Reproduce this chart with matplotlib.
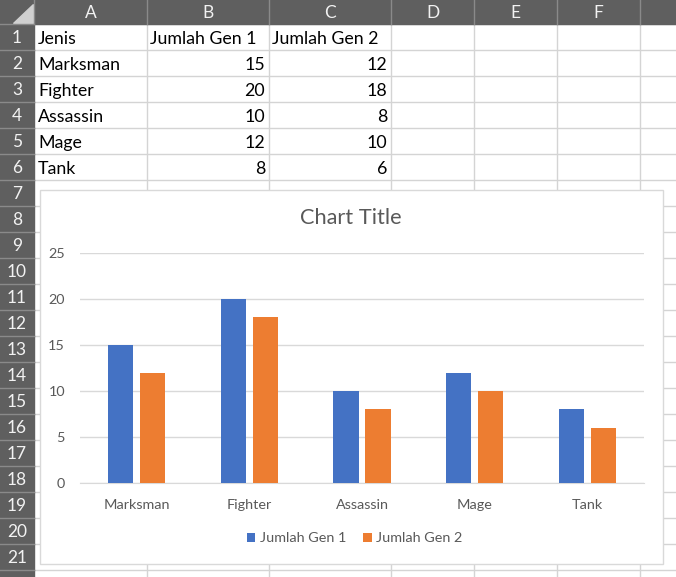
import numpy as np
import matplotlib
matplotlib.use("Agg")
import matplotlib.pyplot as plt
from matplotlib.patches import Rectangle, Polygon

# sheet data
headers = ["Jenis", "Jumlah Gen 1", "Jumlah Gen 2"]
categories = ["Marksman", "Fighter", "Assassin", "Mage", "Tank"]
gen1 = [15, 20, 10, 12, 8]
gen2 = [12, 18, 8, 10, 6]
col_letters = ["A", "B", "C", "D", "E", "F"]
n_rows = 21

# sheet geometry (pixels)
W, H = 676, 577
col_edges = [34, 147, 269, 391, 474, 557, 640]
hdr_h = 24
row_h = 26

plt.rcParams['font.family'] = ['Lato', 'DejaVu Sans']

fig = plt.figure(figsize=(W / 100, H / 100), dpi=100)
bg = fig.add_axes([0, 0, 1, 1])
bg.set_xlim(0, W)
bg.set_ylim(H, 0)
bg.axis("off")

grid_c = "#d4d4d4"
hdr_c = "#5f5f5f"

# cell grid
for x in col_edges[1:]:
    bg.plot([x, x], [hdr_h, H], color=grid_c, lw=1, zorder=1)
for r in range(n_rows + 1):
    y = hdr_h + r * row_h
    bg.plot([col_edges[0], W], [y, y], color=grid_c, lw=1, zorder=1)

# headers
bg.add_patch(Rectangle((0, 0), W, hdr_h, color=hdr_c, zorder=2))
bg.add_patch(Rectangle((0, 0), col_edges[0], H, color=hdr_c, zorder=2))
bg.add_patch(Polygon([(33, 4), (33, 23), (13, 23)], closed=True, color="#d0d0d0", zorder=3))
for x in col_edges:
    bg.plot([x, x], [0, hdr_h], color="#8a8a8a", lw=1, zorder=3)
for i, letter in enumerate(col_letters):
    xc = (col_edges[i] + col_edges[i + 1]) / 2
    bg.text(xc, hdr_h / 2 + 1, letter, color="#f2f2f2", fontsize=12.5,
            ha="center", va="center", zorder=4)
for r in range(n_rows + 1):
    y = hdr_h + r * row_h
    bg.plot([0, col_edges[0]], [y, y], color="#8a8a8a", lw=1, zorder=3)
for r in range(1, n_rows + 1):
    yc = hdr_h + (r - 0.5) * row_h
    bg.text(col_edges[0] / 2, yc + 1, str(r), color="#f2f2f2", fontsize=12.5,
            ha="center", va="center", zorder=4)

# cell text
cell_fs = 12.8
def row_y(r):
    return hdr_h + (r - 0.5) * row_h + 2

bg.text(col_edges[0] + 4, row_y(1), headers[0], fontsize=cell_fs, va="center", zorder=4)
bg.text(col_edges[1] + 3, row_y(1), headers[1], fontsize=cell_fs, va="center", zorder=4)
bg.text(col_edges[2] + 3, row_y(1), headers[2], fontsize=cell_fs, va="center", zorder=4)
for i, cat in enumerate(categories):
    r = i + 2
    bg.text(col_edges[0] + 4, row_y(r), cat, fontsize=cell_fs, va="center", zorder=4)
    bg.text(col_edges[2] - 4, row_y(r), str(gen1[i]), fontsize=cell_fs, va="center", ha="right", zorder=4)
    bg.text(col_edges[3] - 4, row_y(r), str(gen2[i]), fontsize=cell_fs, va="center", ha="right", zorder=4)

# chart box
cx0, cy0, cx1, cy1 = 39.5, 189.5, 662.5, 563.5
bg.add_patch(Rectangle((cx0, cy0), cx1 - cx0, cy1 - cy0, facecolor="white",
                       edgecolor="#d9d9d9", lw=1, zorder=5))
text_c = "#595959"
bg.text((cx0 + cx1) / 2, 218, "Chart Title", fontsize=15.7, color=text_c,
        ha="center", va="center", zorder=6)

# plot area
px0, px1, py_top, py_bot = 80, 644, 253, 483
ax = fig.add_axes([px0 / W, 1 - py_bot / H, (px1 - px0) / W, (py_bot - py_top) / H])
ax.set_zorder(10)
ax.patch.set_alpha(0)

x = np.arange(len(categories))
bw = 0.222
off = 0.142
ax.bar(x - off, gen1, bw, color="#4472c4", label="Jumlah Gen 1", zorder=3)
ax.bar(x + off, gen2, bw, color="#ed7d31", label="Jumlah Gen 2", zorder=3)
ax.set_xlim(-0.5, len(categories) - 0.5)
ax.set_ylim(0, 25)
ax.set_yticks(range(0, 26, 5))
ax.set_xticks(x)
ax.set_xticklabels(categories)
ax.grid(axis="y", color="#d9d9d9", lw=1, zorder=0)
for s in ["top", "right", "left"]:
    ax.spines[s].set_visible(False)
ax.spines["bottom"].set_color("#d9d9d9")
ax.tick_params(axis="both", length=0, colors=text_c, labelsize=10.4)
ax.tick_params(axis="y", pad=10.8)
ax.tick_params(axis="x", pad=11.5)

leg = ax.legend(loc="center", bbox_to_anchor=(0.487, -0.24), ncol=2, frameon=False,
                fontsize=10.4, handlelength=0.6, handleheight=0.6, handletextpad=0.3,
                columnspacing=1.2, labelcolor=text_c)

fig.savefig("out.png", dpi=100)
